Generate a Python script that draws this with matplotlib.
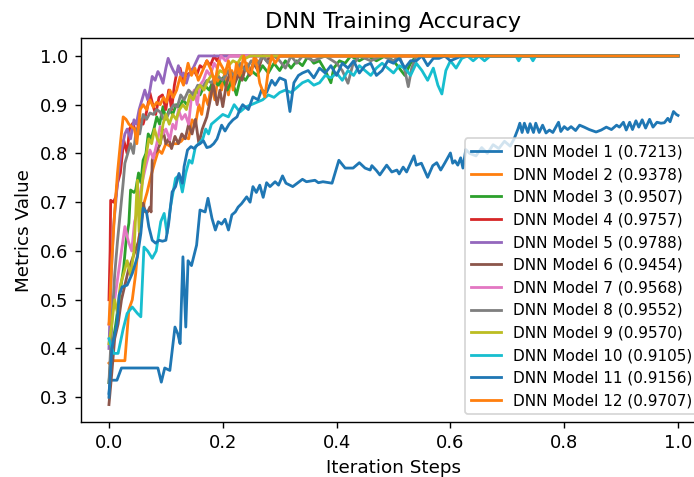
import matplotlib
matplotlib.use("Agg")
import matplotlib.pyplot as plt

# ---- data: (iteration step, training accuracy) per model ----
m1 = [(0.0,0.308),(0.002,0.335),(0.014,0.335),(0.022,0.36),(0.05,0.36),(0.086,0.36),(0.092,0.331),(0.098,0.36),
      (0.107,0.355),(0.116,0.444),(0.121,0.43),(0.125,0.41),(0.13,0.588),(0.135,0.444),(0.139,0.58),(0.145,0.57),
      (0.154,0.612),(0.16,0.684),(0.169,0.68),(0.174,0.708),(0.181,0.667),(0.187,0.643),(0.192,0.66),(0.198,0.655),
      (0.204,0.665),(0.21,0.643),(0.216,0.674),(0.222,0.68),(0.227,0.69),(0.233,0.697),(0.242,0.711),(0.248,0.70),
      (0.253,0.732),(0.259,0.72),(0.265,0.735),(0.271,0.71),(0.277,0.74),(0.283,0.732),(0.292,0.742),(0.298,0.735),
      (0.305,0.754),(0.311,0.739),(0.323,0.732),(0.34,0.747),(0.347,0.742),(0.362,0.745),(0.368,0.74),(0.376,0.742),
      (0.392,0.739),(0.404,0.786),(0.415,0.77),(0.429,0.77),(0.44,0.781),(0.45,0.77),(0.459,0.766),(0.462,0.775),
      (0.47,0.765),(0.476,0.756),(0.488,0.776),(0.497,0.762),(0.506,0.766),(0.51,0.758),(0.517,0.772),(0.523,0.762),
      (0.536,0.795),(0.54,0.776),(0.549,0.78),(0.56,0.751),(0.569,0.775),(0.576,0.781),(0.583,0.766),(0.59,0.78),
      (0.6,0.801),(0.604,0.78),(0.608,0.785),(0.613,0.776),(0.618,0.791),(0.622,0.77),(0.627,0.808),(0.634,0.80),
      (0.645,0.795),(0.655,0.812),(0.665,0.80),(0.675,0.818),(0.685,0.81),(0.695,0.825),(0.705,0.815),(0.712,0.83),
      (0.719,0.851),(0.722,0.862),(0.726,0.843),(0.73,0.862),(0.736,0.843),(0.74,0.861),(0.746,0.843),(0.75,0.862),
      (0.756,0.843),(0.762,0.858),(0.768,0.842),(0.774,0.848),(0.78,0.843),(0.79,0.864),(0.794,0.845),(0.8,0.855),
      (0.806,0.849),(0.812,0.855),(0.82,0.847),(0.827,0.858),(0.835,0.854),(0.844,0.849),(0.856,0.844),(0.865,0.848),
      (0.874,0.854),(0.883,0.849),(0.892,0.858),(0.897,0.854),(0.904,0.864),(0.909,0.848),(0.915,0.864),(0.92,0.849),
      (0.926,0.867),(0.931,0.854),(0.937,0.869),(0.943,0.852),(0.95,0.87),(0.956,0.854),(0.963,0.864),(0.97,0.862),
      (0.976,0.863),(0.982,0.872),(0.986,0.865),(0.992,0.886),(0.997,0.88),(1.0,0.878)]

m2 = [(0.0,0.37),(0.005,0.375),(0.028,0.375),(0.035,0.48),(0.041,0.50),(0.047,0.554),(0.052,0.62),(0.057,0.66),
      (0.062,0.70),(0.067,0.72),(0.073,0.75),(0.08,0.78),(0.087,0.807),(0.093,0.80),(0.1,0.82),(0.107,0.815),
      (0.114,0.82),(0.12,0.82),(0.127,0.825),(0.133,0.834),(0.14,0.83),(0.146,0.869),(0.152,0.86),(0.158,0.9),
      (0.163,0.88),(0.168,0.92),(0.174,0.90),(0.18,0.94),(0.186,0.91),(0.192,0.96),(0.198,0.93),(0.204,0.97),
      (0.21,0.92),(0.216,0.97),(0.222,0.95),(0.23,0.98),(0.236,0.96),(0.242,0.985),(0.25,0.97),(0.256,1.0),
      (0.262,0.985),(0.27,1.0),(1.0,1.0)]

m3 = [(0.0,0.33),(0.005,0.40),(0.012,0.45),(0.02,0.52),(0.026,0.567),(0.03,0.62),(0.035,0.657),(0.038,0.725),
      (0.044,0.72),(0.047,0.725),(0.052,0.76),(0.056,0.74),(0.06,0.786),(0.065,0.80),(0.069,0.84),(0.074,0.83),
      (0.079,0.85),(0.084,0.875),(0.089,0.86),(0.095,0.896),(0.1,0.87),(0.106,0.89),(0.112,0.88),(0.118,0.90),
      (0.124,0.895),(0.13,0.91),(0.137,0.90),(0.145,0.92),(0.152,0.93),(0.16,0.92),(0.168,0.94),(0.176,0.93),
      (0.184,0.95),(0.192,0.94),(0.2,0.955),(0.208,0.93),(0.216,0.95),(0.224,0.92),(0.232,0.96),(0.24,0.95),
      (0.25,0.97),(0.26,0.96),(0.27,0.98),(0.28,0.965),(0.29,0.985),(0.3,0.97),(0.31,0.99),(0.32,0.975),
      (0.33,0.99),(0.34,0.98),(0.35,1.0),(0.36,0.985),(0.37,0.99),(0.38,0.97),(0.39,0.945),(0.395,0.975),
      (0.405,0.99),(0.415,0.985),(0.425,1.0),(0.44,0.99),(0.455,1.0),(0.47,0.99),(0.485,1.0),(0.5,0.99),
      (0.51,0.975),(0.52,0.96),(0.53,0.985),(0.54,1.0),(1.0,1.0)]

m4 = [(0.0,0.50),(0.002,0.60),(0.003,0.704),(0.008,0.70),(0.012,0.711),(0.015,0.739),(0.02,0.76),(0.026,0.827),
      (0.032,0.80),(0.036,0.85),(0.042,0.862),(0.048,0.84),(0.054,0.87),(0.06,0.86),(0.066,0.885),(0.072,0.924),
      (0.077,0.90),(0.082,0.88),(0.088,0.915),(0.094,0.92),(0.1,0.89),(0.105,0.93),(0.11,0.89),(0.115,0.94),
      (0.119,0.965),(0.125,0.975),(0.13,0.95),(0.136,0.96),(0.142,0.965),(0.148,0.975),(0.154,0.96),(0.16,0.98),
      (0.166,0.975),(0.172,0.99),(0.178,0.98),(0.185,1.0),(0.19,0.99),(0.195,1.0),(1.0,1.0)]

m5 = [(0.0,0.40),(0.004,0.55),(0.008,0.65),(0.012,0.70),(0.016,0.756),(0.022,0.807),(0.028,0.84),(0.032,0.85),
      (0.038,0.83),(0.044,0.869),(0.048,0.86),(0.053,0.89),(0.058,0.91),(0.063,0.93),(0.068,0.91),(0.072,0.93),
      (0.076,0.958),(0.081,0.95),(0.086,0.968),(0.09,0.96),(0.095,0.944),(0.1,0.975),(0.104,0.995),(0.109,0.98),
      (0.113,0.97),(0.118,0.96),(0.122,0.98),(0.127,0.957),(0.131,0.965),(0.136,0.944),(0.14,0.96),(0.146,0.97),
      (0.152,0.985),(0.158,1.0),(1.0,1.0)]

m6 = [(0.0,0.285),(0.005,0.35),(0.01,0.42),(0.016,0.45),(0.022,0.50),(0.028,0.53),(0.034,0.56),(0.04,0.58),
      (0.046,0.60),(0.052,0.62),(0.056,0.65),(0.06,0.698),(0.064,0.68),(0.068,0.68),(0.072,0.69),(0.074,0.68),
      (0.076,0.786),(0.08,0.80),(0.085,0.807),(0.09,0.82),(0.095,0.848),(0.1,0.82),(0.105,0.83),(0.11,0.81),
      (0.116,0.835),(0.122,0.82),(0.128,0.84),(0.134,0.83),(0.14,0.86),(0.146,0.84),(0.152,0.87),(0.158,0.82),
      (0.164,0.85),(0.172,0.875),(0.178,0.91),(0.183,0.944),(0.19,0.90),(0.195,0.93),(0.2,0.896),(0.206,0.94),
      (0.213,0.968),(0.22,0.94),(0.227,0.96),(0.234,0.95),(0.24,0.98),(0.247,0.96),(0.254,0.985),(0.262,0.97),
      (0.27,1.0),(0.277,0.99),(0.285,1.0),(1.0,1.0)]

m7 = [(0.0,0.45),(0.005,0.48),(0.01,0.50),(0.016,0.55),(0.022,0.60),(0.028,0.65),(0.034,0.62),(0.04,0.60),
      (0.045,0.66),(0.05,0.68),(0.055,0.72),(0.06,0.75),(0.066,0.78),(0.072,0.807),(0.078,0.79),(0.084,0.82),
      (0.09,0.855),(0.095,0.84),(0.1,0.85),(0.107,0.828),(0.112,0.86),(0.117,0.85),(0.122,0.89),(0.128,0.87),
      (0.134,0.88),(0.14,0.86),(0.145,0.916),(0.15,0.93),(0.155,0.90),(0.16,0.94),(0.166,0.95),(0.172,0.97),
      (0.178,0.96),(0.185,0.985),(0.19,0.975),(0.197,1.0),(0.205,0.99),(0.212,1.0),(1.0,1.0)]

m8 = [(0.0,0.33),(0.005,0.45),(0.01,0.55),(0.015,0.62),(0.02,0.68),(0.025,0.74),(0.028,0.78),(0.033,0.80),
      (0.038,0.82),(0.043,0.80),(0.048,0.85),(0.054,0.84),(0.06,0.88),(0.066,0.87),(0.072,0.883),(0.078,0.88),
      (0.084,0.89),(0.09,0.885),(0.096,0.87),(0.102,0.875),(0.108,0.89),(0.114,0.9),(0.12,0.895),(0.126,0.92),
      (0.132,0.91),(0.14,0.93),(0.148,0.92),(0.156,0.94),(0.164,0.935),(0.172,0.95),(0.18,0.945),(0.19,0.96),
      (0.2,0.95),(0.21,0.97),(0.22,0.96),(0.23,0.985),(0.24,0.97),(0.25,0.99),(0.26,0.98),(0.27,1.0),
      (0.28,0.985),(0.29,1.0),(0.3,0.99),(0.31,0.975),(0.32,1.0),(0.33,0.985),(0.34,1.0),(0.36,0.99),
      (0.38,1.0),(0.4,0.985),(0.41,0.97),(0.42,0.944),(0.428,0.98),(0.44,1.0),(0.46,0.99),(0.48,1.0),
      (0.5,0.99),(0.51,1.0),(0.52,0.97),(0.526,0.937),(0.532,0.975),(0.54,1.0),(1.0,1.0)]

m9 = [(0.0,0.41),(0.005,0.45),(0.01,0.50),(0.015,0.472),(0.02,0.53),(0.026,0.554),(0.032,0.58),(0.038,0.55),
      (0.044,0.60),(0.048,0.70),(0.05,0.745),(0.053,0.64),(0.057,0.72),(0.061,0.766),(0.066,0.80),(0.07,0.83),
      (0.075,0.82),(0.08,0.85),(0.085,0.83),(0.09,0.82),(0.095,0.86),(0.1,0.88),(0.106,0.86),(0.112,0.88),
      (0.118,0.87),(0.124,0.89),(0.13,0.90),(0.136,0.89),(0.142,0.92),(0.148,0.91),(0.154,0.93),(0.16,0.94),
      (0.167,0.93),(0.174,0.95),(0.18,0.96),(0.188,0.955),(0.195,0.97),(0.202,0.965),(0.21,0.98),(0.218,0.99),
      (0.226,0.985),(0.234,1.0),(0.24,0.995),(0.248,1.0),(1.0,1.0)]

m10 = [(0.0,0.42),(0.008,0.39),(0.016,0.39),(0.025,0.44),(0.032,0.472),(0.041,0.485),(0.05,0.472),(0.056,0.465),
       (0.0615,0.608),(0.068,0.60),(0.076,0.585),(0.083,0.60),(0.091,0.66),(0.097,0.677),(0.102,0.636),(0.108,0.69),
       (0.117,0.749),(0.123,0.755),(0.129,0.721),(0.135,0.76),(0.141,0.786),(0.146,0.78),(0.152,0.814),(0.158,0.82),
       (0.165,0.83),(0.17,0.85),(0.175,0.84),(0.18,0.86),(0.19,0.87),(0.2,0.88),(0.21,0.875),(0.22,0.9),
       (0.23,0.885),(0.24,0.895),(0.25,0.9),(0.26,0.905),(0.27,0.91),(0.28,0.92),(0.29,0.915),(0.3,0.925),
       (0.31,0.93),(0.32,0.925),(0.33,0.935),(0.34,0.945),(0.35,0.95),(0.36,0.94),(0.37,0.945),(0.38,0.96),
       (0.39,0.955),(0.4,0.965),(0.41,0.95),(0.42,0.97),(0.43,0.96),(0.44,0.98),(0.45,0.97),(0.46,0.96),
       (0.47,0.975),(0.48,0.985),(0.49,0.975),(0.5,0.965),(0.51,0.98),(0.52,0.975),(0.53,0.96),(0.54,0.985),
       (0.55,0.97),(0.56,0.95),(0.57,0.975),(0.578,0.94),(0.585,0.922),(0.592,0.97),(0.6,0.99),(0.61,0.975),
       (0.62,0.995),(0.63,1.0),(0.64,0.99),(0.65,1.0),(0.66,0.99),(0.67,1.0),(0.715,1.0),(0.72,0.99),
       (0.725,1.0),(0.74,1.0),(0.745,0.99),(0.75,1.0),(1.0,1.0)]

m11 = [(0.0,0.30),(0.005,0.40),(0.014,0.45),(0.018,0.51),(0.023,0.526),(0.032,0.53),(0.041,0.554),(0.05,0.588),
       (0.056,0.636),(0.06,0.688),(0.066,0.68),(0.07,0.65),(0.076,0.622),(0.082,0.616),(0.088,0.622),(0.094,0.62),
       (0.1,0.622),(0.105,0.657),(0.111,0.721),(0.117,0.732),(0.123,0.759),(0.129,0.739),(0.132,0.773),(0.138,0.807),
       (0.144,0.814),(0.15,0.81),(0.155,0.817),(0.16,0.82),(0.166,0.826),(0.172,0.812),(0.178,0.814),(0.184,0.82),
       (0.19,0.83),(0.198,0.858),(0.204,0.846),(0.211,0.86),(0.218,0.869),(0.225,0.875),(0.23,0.89),(0.235,0.9),
       (0.245,0.89),(0.253,0.916),(0.262,0.91),(0.268,0.93),(0.277,0.925),(0.286,0.95),(0.292,0.94),(0.3,0.955),
       (0.31,0.95),(0.318,0.886),(0.325,0.945),(0.333,0.96),(0.34,0.965),(0.35,0.97),(0.36,0.955),(0.37,0.975),
       (0.38,0.965),(0.39,0.98),(0.4,0.96),(0.41,0.985),(0.42,0.975),(0.43,0.99),(0.44,0.965),(0.45,0.98),
       (0.46,0.985),(0.47,0.96),(0.48,0.97),(0.49,0.99),(0.5,0.985),(0.51,0.995),(0.52,0.975),(0.53,0.99),
       (0.54,0.99),(0.55,1.0),(0.56,0.98),(0.57,0.995),(0.58,0.995),(0.59,1.0),(0.6,0.99),(0.62,1.0),(1.0,1.0)]

m12 = [(0.0,0.45),(0.005,0.58),(0.01,0.68),(0.015,0.76),(0.02,0.82),(0.025,0.875),(0.03,0.87),(0.035,0.86),
       (0.04,0.855),(0.045,0.85),(0.049,0.82),(0.055,0.89),(0.06,0.9),(0.066,0.89),(0.072,0.91),(0.078,0.895),
       (0.084,0.905),(0.09,0.90),(0.096,0.915),(0.101,0.905),(0.107,0.93),(0.113,0.915),(0.119,0.93),(0.125,0.957),
       (0.131,0.94),(0.139,0.985),(0.145,0.96),(0.151,0.975),(0.157,0.95),(0.165,0.971),(0.172,0.99),(0.18,0.97),
       (0.186,0.944),(0.193,0.99),(0.2,0.975),(0.204,0.963),(0.21,0.99),(0.218,0.93),(0.224,0.985),(0.23,0.96),
       (0.237,1.0),(0.243,0.97),(0.25,0.963),(0.255,0.995),(0.26,0.98),(0.265,0.944),(0.274,0.916),(0.28,0.97),
       (0.286,1.0),(0.292,0.985),(0.3,1.0),(1.0,1.0)]

series = [m1, m2, m3, m4, m5, m6, m7, m8, m9, m10, m11, m12]
model_names = [f"DNN Model {i}" for i in range(1, 13)]
final_scores = ["0.7213", "0.9378", "0.9507", "0.9757", "0.9788", "0.9454",
                "0.9568", "0.9552", "0.9570", "0.9105", "0.9156", "0.9707"]
colors = ["#1f77b4", "#ff7f0e", "#2ca02c", "#d62728", "#9467bd", "#8c564b",
          "#e377c2", "#7f7f7f", "#bcbd22", "#17becf", "#1f77b4", "#ff7f0e"]

DPI = 126
fig = plt.figure(figsize=(694 / DPI, 477 / DPI), dpi=DPI)
ax = fig.add_axes([0.116, 0.1153, 0.902, 0.804])

for pts, name, score, c in zip(series, model_names, final_scores, colors):
    xs = [p[0] for p in pts]
    ys = [p[1] for p in pts]
    ax.plot(xs, ys, color=c, lw=1.6, label=f"{name} ({score})")

ax.set_title("DNN Training Accuracy", fontsize=12.8)
ax.set_xlabel("Iteration Steps", fontsize=10.5)
ax.set_ylabel("Metrics Value", fontsize=10.5)
ax.tick_params(labelsize=10.2)
ax.legend(loc="lower right", fontsize=8.7)

fig.savefig("out.png", dpi=DPI)
